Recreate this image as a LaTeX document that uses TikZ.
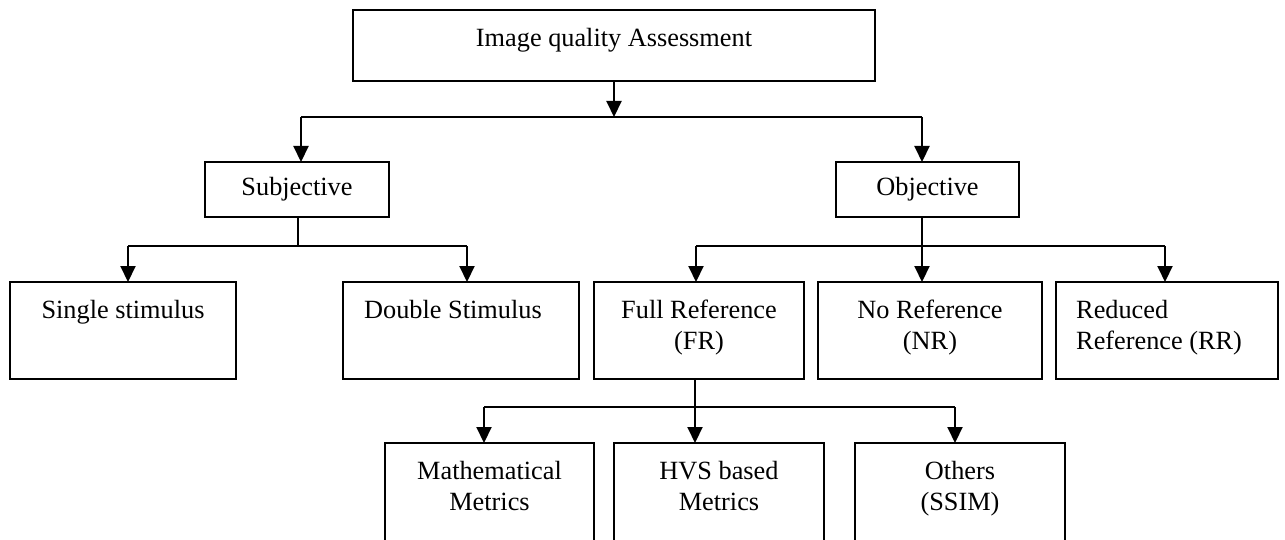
\documentclass[tikz,border=0pt]{standalone}
\usepackage{fontspec}
\setmainfont{Liberation Serif}
\usetikzlibrary{arrows.meta}
\begin{document}
\begin{tikzpicture}[x=1pt,y=-1pt,
  box/.style={draw=black,line width=2.1pt,anchor=north west,inner sep=0pt,outer sep=0pt},
  txt/.style={anchor=north,inner sep=0pt,align=center,font=\fontsize{26.3}{31}\selectfont},
  ltxt/.style={anchor=north west,inner sep=0pt,align=left,font=\fontsize{26.3}{31}\selectfont},
  conn/.style={line width=2.1pt},
  arr/.style={line width=2.1pt,-{Triangle[length=16pt,width=15pt]}}]
\useasboundingbox (0,0) rectangle (1285,540);
% boxes
\node[box,minimum width=522pt,minimum height=71pt] (top) at (353,10) {};
\node[box,minimum width=184pt,minimum height=55pt] (subj) at (205,162) {};
\node[box,minimum width=183pt,minimum height=55pt] (obj) at (836,162) {};
\node[box,minimum width=226pt,minimum height=97pt] (single) at (10,282) {};
\node[box,minimum width=236pt,minimum height=97pt] (double) at (343,282) {};
\node[box,minimum width=210pt,minimum height=97pt] (fr) at (594,282) {};
\node[box,minimum width=224pt,minimum height=97pt] (nr) at (818,282) {};
\node[box,minimum width=222pt,minimum height=97pt] (rr) at (1056,282) {};
\node[box,minimum width=209pt,minimum height=100pt] (math) at (385,443) {};
\node[box,minimum width=210pt,minimum height=100pt] (hvs) at (614,443) {};
\node[box,minimum width=210pt,minimum height=100pt] (oth) at (855,443) {};
% texts
\node[txt] (ttop) at ([yshift=-14.3pt]top.north) {\strut Image quality Assessment};
\node[txt,anchor=center] (tsubj) at (subj.center) {Subjective};
\node[txt,anchor=center] (tobj) at (obj.center) {Objective};
\node[txt] (tsingle) at ([yshift=-14.3pt]single.north) {\strut Single stimulus};
\node[ltxt] (tdouble) at ([xshift=21pt,yshift=-14.3pt]double.north west) {\strut Double Stimulus};
\node[txt] (tfr) at ([yshift=-14.3pt]fr.north) {\strut Full Reference\\\strut (FR)};
\node[txt] (tnr) at ([yshift=-14.3pt]nr.north) {\strut No Reference\\\strut (NR)};
\node[ltxt] (trr) at ([xshift=20pt,yshift=-14.3pt]rr.north west) {\strut Reduced\\\strut Reference (RR)};
\node[txt] (tmath) at ([yshift=-14.3pt]math.north) {\strut Mathematical\\\strut Metrics};
\node[txt] (thvs) at ([yshift=-14.3pt]hvs.north) {\strut HVS based\\\strut Metrics};
\node[txt] (toth) at ([yshift=-14.3pt]oth.north) {\strut Others\\\strut (SSIM)};
% bus coordinates
\coordinate (b1l) at (301,117);
\coordinate (b1m) at (614,117);
\coordinate (b1r) at (922,117);
\coordinate (b2l) at (128,246);
\coordinate (b2m) at (298,246);
\coordinate (b2r) at (467,246);
\coordinate (b3l) at (696,246);
\coordinate (b3m) at (922,246);
\coordinate (b3r) at (1165,246);
\coordinate (b4l) at (484,407);
\coordinate (b4m) at (695,407);
\coordinate (b4r) at (955,407);
% connectors
\draw[arr] (top.south) -- (b1m);
\draw[conn] (b1l) -- (b1r);
\draw[arr] (b1l) -- (b1l |- subj.north);
\draw[arr] (b1r) -- (b1r |- obj.north);
\draw[conn] (b2m |- subj.south) -- (b2m);
\draw[conn] (b2l) -- (b2r);
\draw[arr] (b2l) -- (b2l |- single.north);
\draw[arr] (b2r) -- (b2r |- double.north);
\draw[conn] (b3m |- obj.south) -- (b3m);
\draw[conn] (b3l) -- (b3r);
\draw[arr] (b3l) -- (b3l |- fr.north);
\draw[arr] (b3m) -- (b3m |- nr.north);
\draw[arr] (b3r) -- (b3r |- rr.north);
\draw[conn] (b4m |- fr.south) -- (b4m);
\draw[conn] (b4l) -- (b4r);
\draw[arr] (b4l) -- (b4l |- math.north);
\draw[arr] (b4m) -- (b4m |- hvs.north);
\draw[arr] (b4r) -- (b4r |- oth.north);
\end{tikzpicture}
\end{document}
